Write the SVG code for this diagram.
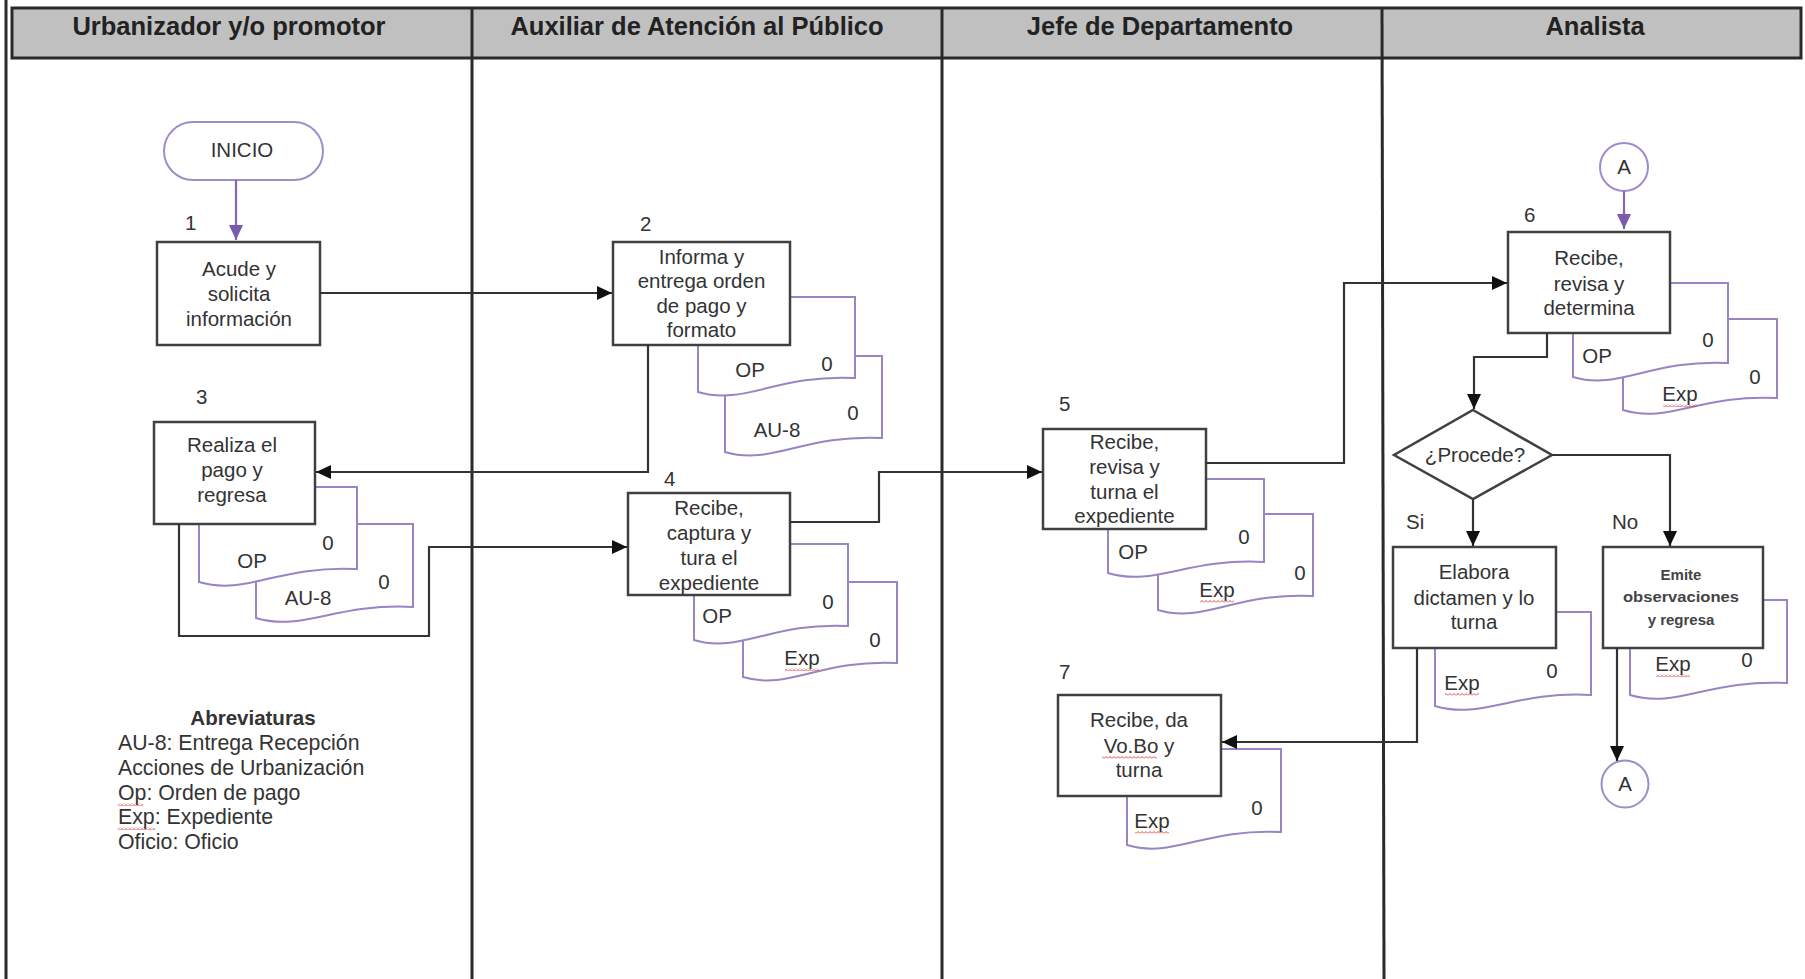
<svg xmlns="http://www.w3.org/2000/svg" width="1805" height="979" viewBox="0 0 1805 979">
<style>
text{font-family:"Liberation Sans",Arial,sans-serif;fill:#333;}
.t{font-size:20.5px;text-anchor:middle;}
.tl{font-size:20.5px;}
.lg{font-size:21.3px;}
.h{font-size:25.5px;font-weight:bold;text-anchor:middle;fill:#222;}
.sm{font-size:15px;font-weight:bold;text-anchor:middle;fill:#444;}
.box{fill:#fff;stroke:#404040;stroke-width:2.5;}
.doc{fill:#fff;stroke:#9a84c4;stroke-width:2;}
.term{fill:#fff;stroke:#a08cc8;stroke-width:2;}
.con{fill:none;stroke:#333;stroke-width:2.2;}
.pcon{fill:none;stroke:#8466b4;stroke-width:2.2;}
.lane{stroke:#2a2a2a;stroke-width:3;fill:none;}
.sq{fill:url(#wave);}
</style>
<defs>
<marker id="ar" markerUnits="userSpaceOnUse" markerWidth="16" markerHeight="14" refX="15" refY="7" orient="auto">
<path d="M0,0 L15,7 L0,14 z" fill="#111"/>
</marker>
<marker id="pr" markerUnits="userSpaceOnUse" markerWidth="16" markerHeight="14" refX="15" refY="7" orient="auto">
<path d="M0,0 L15,7 L0,14 z" fill="#7a5aae"/>
</marker>
<pattern id="wave" patternUnits="userSpaceOnUse" width="4" height="3">
<path d="M0,2.5 L2,0.5 L4,2.5" fill="none" stroke="#e03030" stroke-width="0.9"/>
</pattern>
</defs>

<g id="lanes">
<rect x="12" y="8" width="1789" height="50" fill="#c0c0c0" stroke="#2a2a2a" stroke-width="3"/>
<line class="lane" x1="6" y1="0" x2="6" y2="979"/>
<line class="lane" x1="472" y1="8" x2="472" y2="979"/>
<line class="lane" x1="942" y1="8" x2="942" y2="979"/>
<line class="lane" x1="1382" y1="8" x2="1384" y2="979"/>
<text class="h" x="229" y="35">Urbanizador y/o promotor</text>
<text class="h" x="697" y="35">Auxiliar de Atención al Público</text>
<text class="h" x="1160" y="35">Jefe de Departamento</text>
<text class="h" x="1595" y="35">Analista</text>
</g>

<g id="inicio">
<rect class="term" x="164" y="122" width="159" height="58" rx="29"/>
<text class="t" x="242" y="157">INICIO</text>
</g>

<g id="n1">
<text class="tl" x="185" y="230">1</text>
<rect class="box" x="157" y="242" width="163" height="103"/>
<text class="t" x="239" y="275.5">Acude y</text>
<text class="t" x="239" y="300.5">solicita</text>
<text class="t" x="239" y="325.5">información</text>
</g>

<g id="n2">
<path class="doc" d="M725,356 H882 V438 C803.5,434 772,466 725,452 Z"/>
<path class="doc" d="M698,297 H855 V378 C776.5,374 745,406 698,392 Z"/>
<text class="t" x="750" y="376.5">OP</text>
<text class="t" x="827" y="371">0</text>
<text class="t" x="777" y="436.5">AU-8</text>
<text class="t" x="853" y="420">0</text>
<text class="tl" x="640" y="231">2</text>
<rect class="box" x="613" y="242" width="177" height="103"/>
<text class="t" x="701.5" y="263.5">Informa y</text>
<text class="t" x="701.5" y="288">entrega orden</text>
<text class="t" x="701.5" y="312.5">de pago y</text>
<text class="t" x="701.5" y="337">formato</text>
</g>

<g id="n3">
<path class="doc" d="M256,524 H413 V607 C334.5,603 303,632 256,618 Z"/>
<path class="doc" d="M199,487 H357 V569 C278,565 246,596 199,582 Z"/>
<text class="t" x="252" y="568">OP</text>
<text class="t" x="328" y="550">0</text>
<text class="t" x="308" y="605">AU-8</text>
<text class="t" x="384" y="589">0</text>
<text class="tl" x="196" y="404">3</text>
<rect class="box" x="154" y="422" width="161" height="102"/>
<text class="t" x="232" y="452">Realiza el</text>
<text class="t" x="232" y="477">pago y</text>
<text class="t" x="232" y="502">regresa</text>
</g>

<g id="n4">
<path class="doc" d="M743,582 H897 V663 C820,659 789,691 743,677 Z"/>
<path class="doc" d="M694,544 H848 V626 C771,622 740,654 694,640 Z"/>
<text class="t" x="717" y="623">OP</text>
<text class="t" x="828" y="609">0</text>
<text class="t" x="802" y="665">Exp</text>
<rect class="sq" x="785" y="668" width="34" height="3"/>
<text class="t" x="875" y="647">0</text>
<text class="tl" x="664" y="486">4</text>
<rect class="box" x="628" y="493" width="162" height="102"/>
<text class="t" x="709" y="515">Recibe,</text>
<text class="t" x="709" y="540">captura y</text>
<text class="t" x="709" y="565">tura el</text>
<text class="t" x="709" y="590">expediente</text>
</g>

<g id="n5">
<path class="doc" d="M1158,514 H1313 V596 C1235.5,592 1204.5,624 1158,610 Z"/>
<path class="doc" d="M1108,479 H1264 V562 C1186,558 1155,587 1108,573 Z"/>
<text class="t" x="1133" y="559">OP</text>
<text class="t" x="1244" y="544">0</text>
<text class="t" x="1217" y="597">Exp</text>
<rect class="sq" x="1200" y="600" width="34" height="3"/>
<text class="t" x="1300" y="580">0</text>
<text class="tl" x="1059" y="411">5</text>
<rect class="box" x="1043" y="429" width="163" height="100"/>
<text class="t" x="1124.5" y="448.5">Recibe,</text>
<text class="t" x="1124.5" y="473.5">revisa y</text>
<text class="t" x="1124.5" y="498.5">turna el</text>
<text class="t" x="1124.5" y="522.5">expediente</text>
</g>

<g id="n6">
<path class="doc" d="M1623,319 H1777 V398 C1700,394 1669,424 1623,410 Z"/>
<path class="doc" d="M1573,283 H1728 V363 C1650.5,359 1619.5,391 1573,377 Z"/>
<text class="t" x="1597" y="363">OP</text>
<text class="t" x="1708" y="347">0</text>
<text class="t" x="1680" y="401">Exp</text>
<rect class="sq" x="1663" y="404" width="34" height="3"/>
<text class="t" x="1755" y="384">0</text>
<text class="tl" x="1524" y="222">6</text>
<rect class="box" x="1508" y="232" width="162" height="101"/>
<text class="t" x="1589" y="265">Recibe,</text>
<text class="t" x="1589" y="290.5">revisa y</text>
<text class="t" x="1589" y="315">determina</text>
</g>

<g id="n7">
<path class="doc" d="M1127,749 H1281 V832 C1204,828 1173,859 1127,845 Z"/>
<text class="t" x="1152" y="828">Exp</text>
<rect class="sq" x="1135" y="831" width="34" height="3"/>
<text class="t" x="1257" y="815">0</text>
<text class="tl" x="1059" y="679">7</text>
<rect class="box" x="1058" y="695" width="163" height="101"/>
<text class="t" x="1139" y="727">Recibe, da</text>
<text class="t" x="1139" y="753">Vo.Bo y</text>
<rect class="sq" x="1102" y="756" width="55" height="3"/>
<text class="t" x="1139" y="777">turna</text>
</g>

<g id="procede">
<path class="box" d="M1473,410 L1552,455 L1473,499 L1394,455 Z"/>
<text class="t" x="1475" y="462">¿Procede?</text>
<text class="tl" x="1406" y="529">Si</text>
<text class="tl" x="1612" y="529">No</text>
</g>

<g id="elabora">
<path class="doc" d="M1435,612 H1591 V695 C1513,691 1482,720 1435,706 Z"/>
<text class="t" x="1462" y="690">Exp</text>
<rect class="sq" x="1445" y="693" width="34" height="3"/>
<text class="t" x="1552" y="678">0</text>
<rect class="box" x="1393" y="547" width="163" height="101"/>
<text class="t" x="1474" y="578.5">Elabora</text>
<text class="t" x="1474" y="604.5">dictamen y lo</text>
<text class="t" x="1474" y="628.5">turna</text>
</g>

<g id="emite">
<path class="doc" d="M1630,600 H1787 V683 C1708.5,679 1677,709 1630,695 Z"/>
<text class="t" x="1673" y="671">Exp</text>
<rect class="sq" x="1656" y="674" width="34" height="3"/>
<text class="t" x="1747" y="667">0</text>
<rect class="box" x="1603" y="547" width="160" height="101"/>
<text class="sm" x="1681" y="580">Emite</text>
<text class="sm" x="1681" y="602" textLength="116" lengthAdjust="spacingAndGlyphs">observaciones</text>
<text class="sm" x="1681" y="624.5">y regresa</text>
</g>

<g id="conA1">
<circle class="term" cx="1624" cy="167" r="24"/>
<text class="t" x="1624" y="174">A</text>
</g>

<g id="conA2">
<circle class="term" cx="1625" cy="784" r="23.5"/>
<text class="t" x="1625" y="791">A</text>
</g>

<g id="legend">
<text x="253" y="725" style="font-size:20.5px;font-weight:bold;text-anchor:middle;">Abreviaturas</text>
<text class="lg" x="118" y="750">AU-8: Entrega Recepción</text>
<text class="lg" x="118" y="775">Acciones de Urbanización</text>
<text class="lg" x="118" y="799.5">Op: Orden de pago</text>
<rect class="sq" x="118" y="803" width="25" height="3"/>
<text class="lg" x="118" y="824">Exp: Expediente</text>
<rect class="sq" x="118" y="827" width="37" height="3"/>
<text class="lg" x="118" y="848.5">Oficio: Oficio</text>
</g>

<g id="connectors">
<path class="pcon" d="M236,180 V240" marker-end="url(#pr)"/>
<path class="pcon" d="M1624,191 V229" marker-end="url(#pr)"/>
<path class="con" d="M320,293 H612" marker-end="url(#ar)"/>
<path class="con" d="M648,345 V472 H316" marker-end="url(#ar)"/>
<path class="con" d="M179,524 V636 H429 V547 H627" marker-end="url(#ar)"/>
<path class="con" d="M790,522 H879 V472 H1042" marker-end="url(#ar)"/>
<path class="con" d="M1206,463 H1344 V283 H1507" marker-end="url(#ar)"/>
<path class="con" d="M1547,333 V357 H1474 V409" marker-end="url(#ar)"/>
<path class="con" d="M1473,499 V546" marker-end="url(#ar)"/>
<path class="con" d="M1552,455 H1670 V546" marker-end="url(#ar)"/>
<path class="con" d="M1417,648 V742 H1222" marker-end="url(#ar)"/>
<path class="con" d="M1617,648 V761" marker-end="url(#ar)"/>
</g>
</svg>
